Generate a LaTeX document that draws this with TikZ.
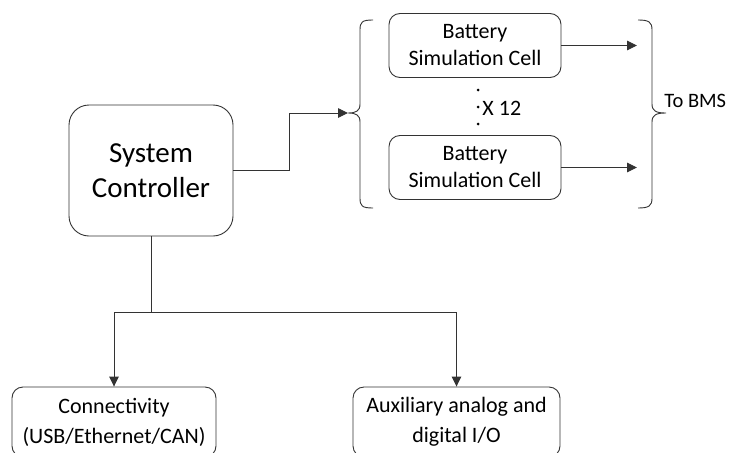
\documentclass[tikz,border=0pt]{standalone}
\usepackage{fontspec}
\setmainfont{Carlito}
\usetikzlibrary{arrows.meta}
\begin{document}
\begin{tikzpicture}[x=1pt,y=-1pt,line width=0.9pt,
  box/.style={draw=black!80,align=center,inner sep=2pt},
  arr/.style={draw=black!80,-{Triangle[length=10pt,width=9.5pt]}},
  cellbox/.style={box,rounded corners=11pt,minimum width=172pt,minimum height=64pt,font=\fontsize{22}{27}\selectfont},
  iobox/.style={box,rounded corners=11pt,minimum height=70pt,font=\fontsize{22}{30}\selectfont}]
\clip (0,0) rectangle (735,452);
% controller and cells
\node[box,rounded corners=20pt,minimum width=164pt,minimum height=131pt,font=\fontsize{29}{35}\selectfont] (sc) at (151,170.5) {System\\Controller};
\node[cellbox] (cell1) at (475,45.5) {Battery\\Simulation Cell};
\node[cellbox] (cell2) at (475,167.5) {Battery\\Simulation Cell};
\node[iobox,minimum width=204pt] (conn) at (114,422) {Connectivity\\(USB/Ethernet/CAN)};
\node[iobox,minimum width=207pt] (aux) at (456.5,422) {Auxiliary analog and\\digital I/O};
% braces
\coordinate (lbr) at (348,113);
\coordinate (rbr) at (666,113);
\coordinate (outx) at (637,0);
\draw[black!80] (373,20) .. controls (362,20) and (360,22) .. (360,30) -- (360,104) .. controls (360,111) and (356,113) .. (lbr) .. controls (356,113) and (360,115) .. (360,122) -- (360,198) .. controls (360,206) and (362,208) .. (373,208);
\draw[black!80] (638,20) .. controls (649,20) and (652,22) .. (652,30) -- (652,104) .. controls (652,111) and (656,113) .. (rbr) .. controls (656,113) and (652,115) .. (652,122) -- (652,198) .. controls (652,206) and (649,208) .. (638,208);
\node[anchor=west,inner sep=0pt,font=\fontsize{20.5}{24}\selectfont] (bms) at (664,101) {To BMS};
% repeat mark
\fill (478,90) circle (1.5) (478,107) circle (1.5) (478,124) circle (1.5);
\node[anchor=west,inner sep=0pt,font=\fontsize{22}{26}\selectfont] (rep) at (482,108) {X 12};
% connectors
\draw[arr] (sc.east) -- ++(56,0) |- (lbr);
\draw[arr] (cell1.east) -- (cell1.east -| outx);
\draw[arr] (cell2.east) -- (cell2.east -| outx);
\draw[black!80] (sc.south) -- ++(0,76) coordinate (split);
\draw[arr] (split) -| (conn.north);
\draw[arr] (split) -| (aux.north);
\end{tikzpicture}
\end{document}
